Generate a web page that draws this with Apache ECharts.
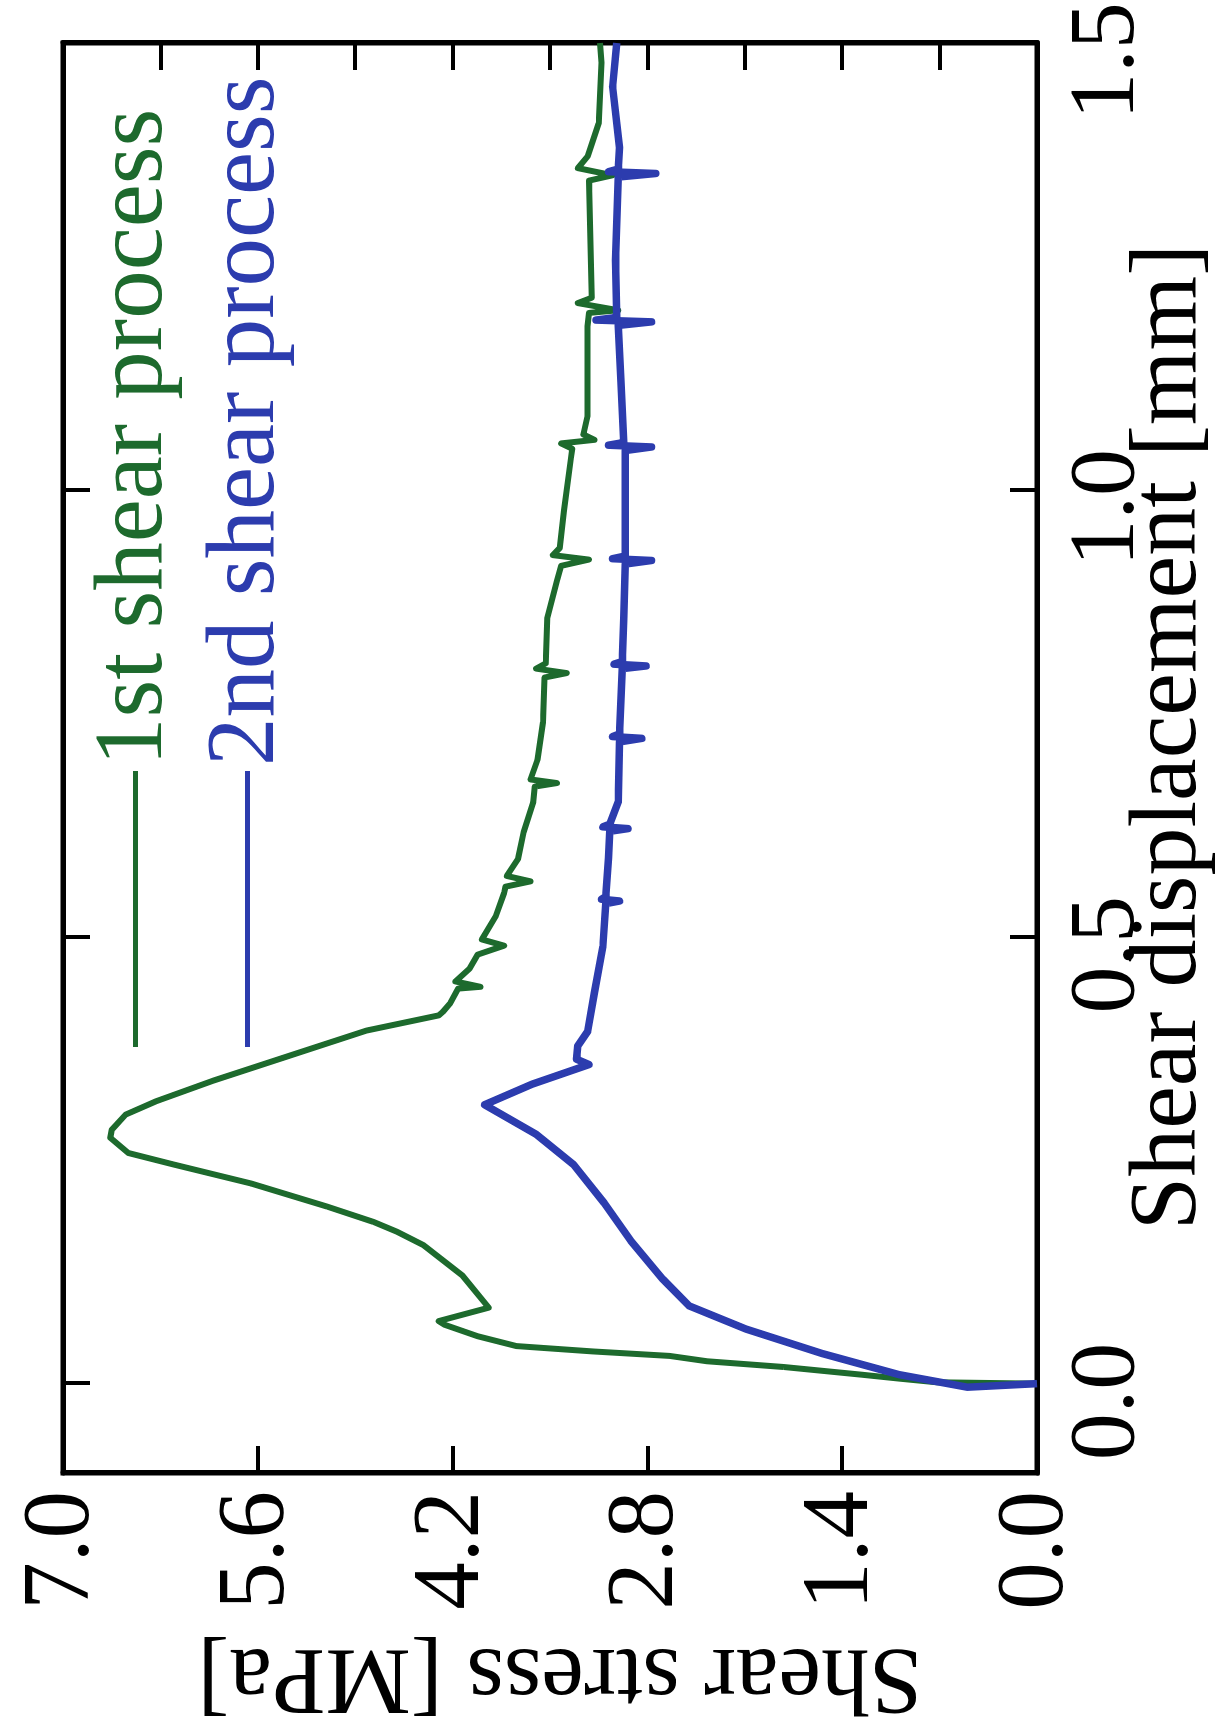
<!DOCTYPE html>
<html>
<head>
<meta charset="utf-8">
<script src="https://cdn.jsdelivr.net/npm/echarts@6/dist/echarts.min.js"></script>
<style>
html,body{margin:0;padding:0;background:#fff;width:1230px;height:1727px;overflow:hidden;}
#wrap{position:absolute;left:0;top:0;width:1727px;height:1230px;transform-origin:0 0;transform:translate(0,1727px) rotate(-90deg);}
</style>
</head>
<body>
<div id="wrap"></div>
<script>
// Shear displacement [mm] and shear stress [MPa]
const green_disp = [0, 0.0015, 0.0056, 0.010, 0.0186, 0.025, 0.031, 0.036, 0.042, 0.053, 0.066, 0.070, 0.085, 0.121, 0.155, 0.170, 0.181, 0.198, 0.224, 0.245, 0.258, 0.275, 0.284, 0.301, 0.316, 0.339, 0.367, 0.395, 0.412, 0.416, 0.425, 0.442, 0.444, 0.450, 0.464, 0.480, 0.490, 0.497, 0.523, 0.549, 0.556, 0.562, 0.568, 0.587, 0.617, 0.651, 0.668, 0.672, 0.676, 0.698, 0.740, 0.790, 0.795, 0.800, 0.806, 0.856, 0.898, 0.915, 0.922, 0.927, 0.935, 0.977, 1.035, 1.046, 1.052, 1.056, 1.062, 1.083, 1.183, 1.198, 1.201, 1.209, 1.215, 1.346, 1.352, 1.360, 1.373, 1.410, 1.478, 1.500];
const green_stress = [0, 0.72, 0.99, 1.26, 1.82, 2.37, 2.64, 3.19, 3.74, 4.02, 4.26, 4.30, 3.94, 4.13, 4.41, 4.60, 4.77, 5.10, 5.65, 6.20, 6.53, 6.66, 6.65, 6.55, 6.33, 5.92, 5.37, 4.82, 4.30, 4.27, 4.22, 4.16, 4.00, 4.18, 4.08, 4.02, 3.83, 3.99, 3.89, 3.83, 3.82, 3.64, 3.81, 3.73, 3.69, 3.62, 3.61, 3.45, 3.64, 3.59, 3.55, 3.54, 3.38, 3.60, 3.53, 3.52, 3.45, 3.42, 3.22, 3.48, 3.43, 3.40, 3.35, 3.34, 3.42, 3.18, 3.26, 3.23, 3.23, 3.22, 3.01, 3.30, 3.20, 3.22, 3.05, 3.30, 3.23, 3.15, 3.13, 3.14];
const blue_disp = [0, -0.004, 0.010, 0.0335, 0.061, 0.087, 0.117, 0.160, 0.202, 0.245, 0.279, 0.312, 0.335, 0.357, 0.363, 0.378, 0.394, 0.438, 0.489, 0.537, 0.540, 0.542, 0.545, 0.588, 0.618, 0.621, 0.623, 0.626, 0.651, 0.718, 0.722, 0.724, 0.727, 0.800, 0.803, 0.805, 0.808, 0.856, 0.917, 0.921, 0.923, 0.926, 0.980, 1.044, 1.048, 1.050, 1.053, 1.120, 1.184, 1.188, 1.190, 1.193, 1.257, 1.350, 1.354, 1.356, 1.359, 1.383, 1.451, 1.500];
const blue_stress = [0, 0.50, 0.99, 1.54, 2.09, 2.50, 2.69, 2.92, 3.11, 3.33, 3.60, 3.97, 3.63, 3.22, 3.31, 3.30, 3.23, 3.18, 3.12, 3.10, 3.00, 3.13, 3.10, 3.08, 3.07, 2.94, 3.12, 3.07, 3.01, 3.00, 2.84, 3.05, 3.00, 2.98, 2.81, 3.04, 2.98, 2.97, 2.96, 2.77, 3.05, 2.96, 2.96, 2.96, 2.77, 3.08, 2.97, 2.99, 3.01, 2.77, 3.17, 3.02, 3.03, 3.01, 2.74, 3.08, 3.01, 3.00, 3.05, 3.02];
const disp_ticks = [0, 0.5, 1.0, 1.5];
const stress_ticks = [0, 1.4, 2.8, 4.2, 5.6, 7.0];
const stress_minor_ticks = [0.7, 1.4, 2.1, 2.8, 3.5, 4.2, 4.9, 5.6, 6.3];
const series_names = ['1st shear process', '2nd shear process'];

const GREEN = '#1d6a2d';
const BLUE = '#2c3cae';
const FONT = "'Liberation Serif', 'DejaVu Serif', serif";

function pairs(xs, ys) { return xs.map((x, i) => [x, ys[i]]); }

const chart = echarts.init(document.getElementById('wrap'), null, {renderer: 'canvas'});
const tickStyle = {color: '#000', width: 4};
const frameLine = {show: true, onZero: false, lineStyle: {color: '#000', width: 5}};
chart.setOption({
  animation: false,
  backgroundColor: '#fff',
  grid: {left: 254, right: 43, top: 63, bottom: 193, outerBoundsMode: 'none', containLabel: false,
         show: true, borderColor: '#000', borderWidth: 5, backgroundColor: 'transparent'},
  legend: {
    orient: 'vertical', left: 675, top: 82,
    itemWidth: 276, itemHeight: 5, itemGap: 15,
    icon: 'rect',
    selectedMode: false,
    textStyle: {fontFamily: FONT, fontSize: 97, lineHeight: 97},
    data: [
      {name: series_names[0], icon: 'rect', itemStyle: {color: GREEN}, textStyle: {color: GREEN}},
      {name: series_names[1], icon: 'rect', itemStyle: {color: BLUE}, textStyle: {color: BLUE}}
    ]
  },
  xAxis: [
    {
      type: 'value', min: -0.1, max: 1.5, position: 'bottom',
      axisLine: frameLine, splitLine: {show: false},
      axisTick: {inside: true, length: 27, lineStyle: tickStyle, customValues: disp_ticks},
      axisLabel: {customValues: disp_ticks, formatter: v => v.toFixed(1), fontFamily: FONT, fontSize: 94, color: '#000', margin: 24, padding: [0, 36, 0, 0]},
      name: 'Shear displacement [mm]', nameLocation: 'middle', nameGap: 85, nameMoveOverlap: false,
      nameTextStyle: {fontFamily: FONT, fontSize: 96, color: '#000', padding: [0, 0, 0, 42]}
    },
    {
      type: 'value', min: -0.1, max: 1.5, position: 'top',
      axisLine: frameLine, splitLine: {show: false},
      axisTick: {inside: true, length: 27, lineStyle: tickStyle, customValues: disp_ticks},
      axisLabel: {show: false}
    }
  ],
  yAxis: [
    {
      type: 'value', min: 0, max: 7, position: 'left',
      axisLine: frameLine, splitLine: {show: false},
      axisTick: {inside: true, length: 27, lineStyle: tickStyle, customValues: stress_ticks},
      axisLabel: {customValues: stress_ticks, formatter: v => v.toFixed(1), fontFamily: FONT, fontSize: 95, color: '#000', margin: 18, padding: [0, 0, 60, 0]},
      name: 'Shear stress [MPa]', nameLocation: 'middle', nameGap: 154, nameRotate: 90, nameMoveOverlap: false,
      nameTextStyle: {fontFamily: FONT, fontSize: 96, color: '#000', padding: [0, 20, 0, 0]}
    },
    {
      type: 'value', min: 0, max: 7, position: 'right',
      axisLine: frameLine, splitLine: {show: false},
      axisTick: {show: true, inside: true, length: 27, lineStyle: tickStyle, customValues: stress_minor_ticks},
      axisLabel: {show: false, customValues: stress_minor_ticks}
    }
  ],
  series: [
    {name: series_names[0], type: 'line', xAxisIndex: 0, yAxisIndex: 0, symbol: 'none', color: GREEN,
     lineStyle: {color: GREEN, width: 6, join: 'round'}, data: pairs(green_disp, green_stress)},
    {name: series_names[1], type: 'line', xAxisIndex: 0, yAxisIndex: 0, symbol: 'none', color: BLUE,
     lineStyle: {color: BLUE, width: 7.5, join: 'round'}, data: pairs(blue_disp, blue_stress)}
  ]
});
</script>
</body>
</html>
